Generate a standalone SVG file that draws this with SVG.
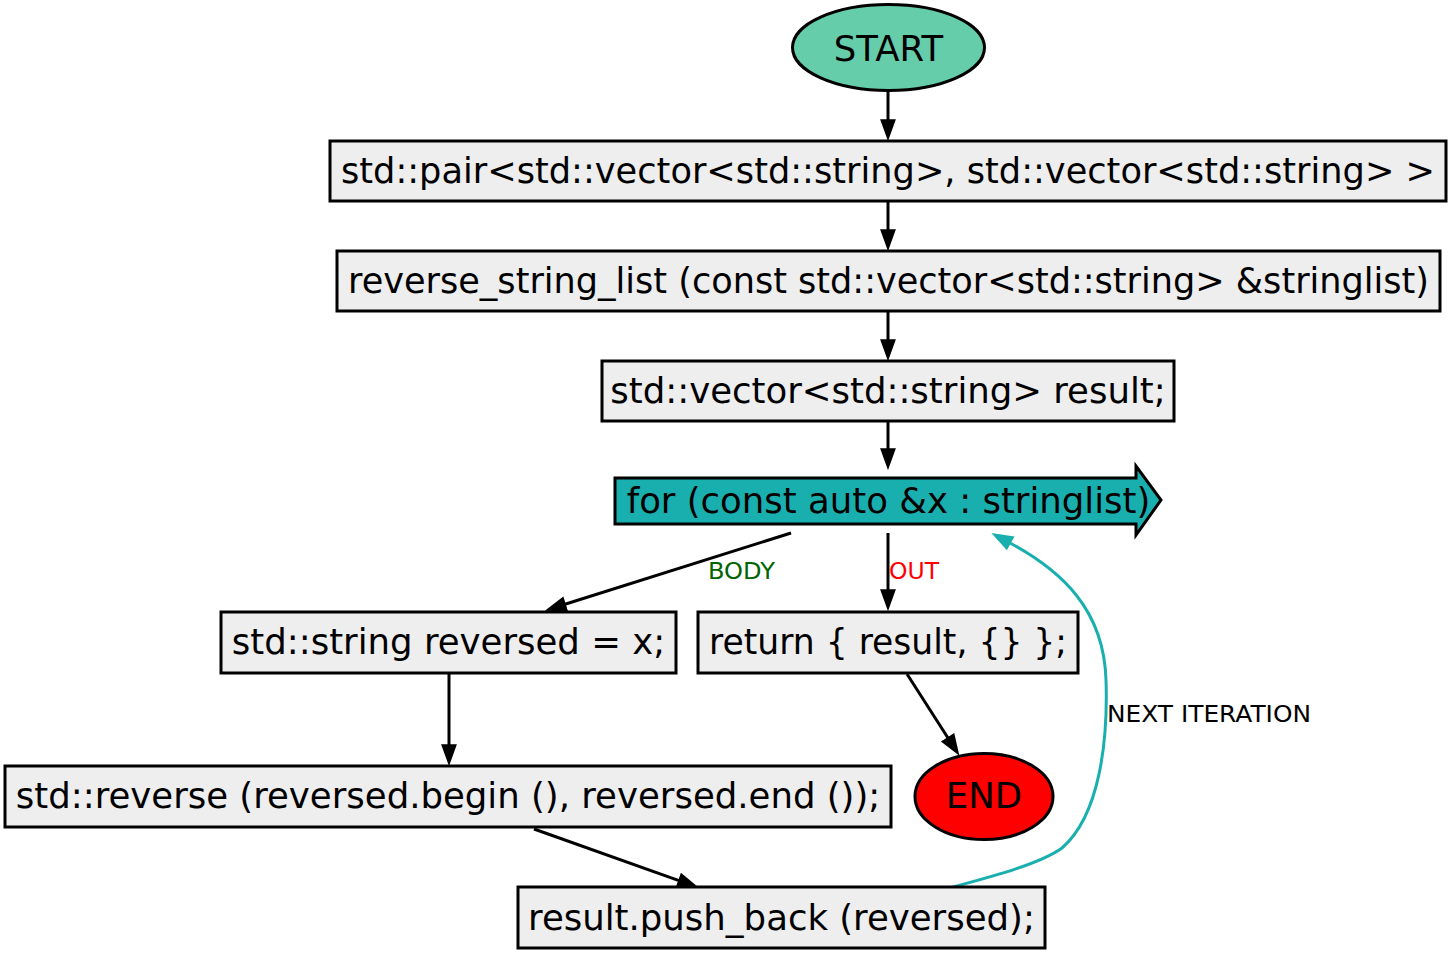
<svg xmlns="http://www.w3.org/2000/svg" width="1452" height="955" viewBox="0 0 1452 955">
<style>
  .box { fill: #eeeeee; stroke: #000; stroke-width: 3; }
  .t { font-family: "DejaVu Sans", Verdana, sans-serif; font-size: 35.5px; fill: #000; text-anchor: middle; }
  .lbl { font-family: "DejaVu Sans", Verdana, sans-serif; font-size: 23.5px; }
  .e { fill: none; stroke: #000; stroke-width: 3; marker-end: url(#ah); }
  .back { fill: none; stroke: #1aafaf; stroke-width: 3; marker-end: url(#aht); }
</style>
<defs>
  <marker id="ah" markerUnits="userSpaceOnUse" markerWidth="22" markerHeight="18" viewBox="0 -1 21 16" refX="1" refY="7" orient="auto">
    <path d="M1,0.5 L19,7 L1,13.5 z" fill="#000" stroke="#000" stroke-width="1.5"/>
  </marker>
  <marker id="aht" markerUnits="userSpaceOnUse" markerWidth="22" markerHeight="18" viewBox="0 -1 21 16" refX="1" refY="7" orient="auto">
    <path d="M1,0.5 L19,7 L1,13.5 z" fill="#1aafaf" stroke="#1aafaf" stroke-width="1.5"/>
  </marker>
</defs>

<g id="edges">
  <path class="e" d="M888,92 L888,120"/>
  <path class="e" d="M888,202 L888,230"/>
  <path class="e" d="M888,312 L888,340"/>
  <path class="e" d="M888,422 L888,449"/>
  <path class="e" d="M791,533 L565,604.3"/>
  <path class="e" d="M888,533 L888,590"/>
  <path class="e" d="M449,674 L449,745"/>
  <path class="e" d="M534,829 L679,880.6"/>
  <path class="e" d="M907,674 L948,738"/>
  <path class="back" d="M953,887 C990,877 1040,864 1062,848 C1100,815 1108,740 1106,680 C1104,610 1062,571 1010,543"/>
  <text class="lbl" x="708" y="579" fill="#006400" textLength="67" lengthAdjust="spacingAndGlyphs">BODY</text>
  <text class="lbl" x="889" y="579" fill="#ff0000">OUT</text>
  <text class="lbl" x="1107" y="722" fill="#000" textLength="204" lengthAdjust="spacingAndGlyphs">NEXT ITERATION</text>
</g>

<g id="start">
  <ellipse cx="888.5" cy="47.5" rx="96" ry="43" fill="#66cdaa" stroke="#000" stroke-width="3"/>
  <text class="t" x="888.5" y="61">START</text>
</g>
<g id="sig">
  <rect class="box" x="330" y="141" width="1116" height="60"/>
  <text class="t" x="888" y="183" textLength="1094" lengthAdjust="spacingAndGlyphs">std::pair&lt;std::vector&lt;std::string&gt;, std::vector&lt;std::string&gt; &gt;</text>
</g>
<g id="func">
  <rect class="box" x="337" y="251" width="1103" height="60"/>
  <text class="t" x="888.5" y="293" textLength="1081" lengthAdjust="spacingAndGlyphs">reverse_string_list (const std::vector&lt;std::string&gt; &amp;stringlist)</text>
</g>
<g id="decl">
  <rect class="box" x="602" y="361" width="572" height="60"/>
  <text class="t" x="888" y="403">std::vector&lt;std::string&gt; result;</text>
</g>
<g id="loop">
  <polygon points="615,478 1136,478 1136,466 1161,500 1136,535 1136,524 615,524" fill="#1aafaf" stroke="#000" stroke-width="3"/>
  <text class="t" x="888.5" y="513">for (const auto &amp;x : stringlist)</text>
</g>
<g id="rev_decl">
  <rect class="box" x="221" y="612" width="455" height="61"/>
  <text class="t" x="448.5" y="654">std::string reversed = x;</text>
</g>
<g id="ret">
  <rect class="box" x="698" y="612" width="380" height="61"/>
  <text class="t" x="888" y="654" textLength="358" lengthAdjust="spacingAndGlyphs">return { result, {} };</text>
</g>
<g id="rev_call">
  <rect class="box" x="5" y="766" width="886" height="61"/>
  <text class="t" x="448" y="808">std::reverse (reversed.begin (), reversed.end ());</text>
</g>
<g id="push">
  <rect class="box" x="518" y="887" width="527" height="61"/>
  <text class="t" x="781.5" y="930">result.push_back (reversed);</text>
</g>
<g id="end">
  <ellipse cx="984" cy="796.5" rx="69" ry="43" fill="#ff0000" stroke="#000" stroke-width="3"/>
  <text class="t" x="984" y="808">END</text>
</g>
</svg>
